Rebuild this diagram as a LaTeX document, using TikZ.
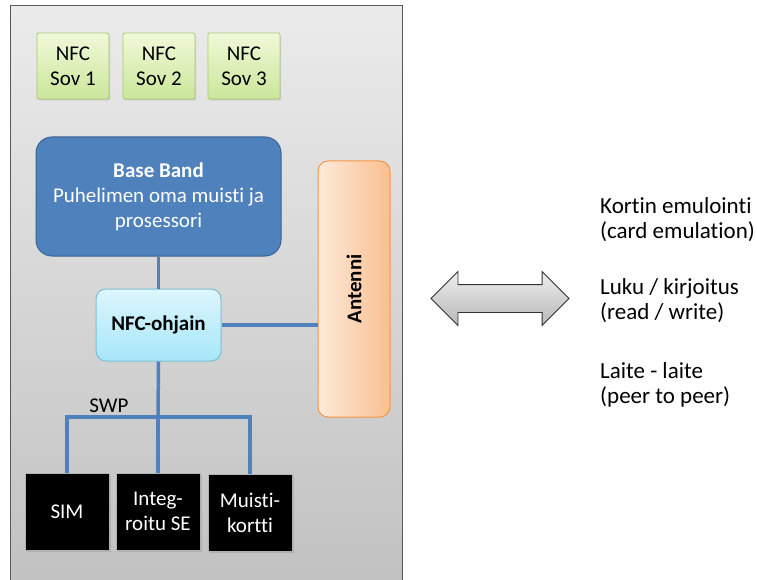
\documentclass[tikz,border=0pt]{standalone}
\usepackage{fontspec}
\setmainfont{Carlito}[Ligatures=NoCommon]
\usetikzlibrary{positioning,shapes.arrows,shadows}
\definecolor{CaseEdge}{HTML}{595959}
\definecolor{CaseTop}{HTML}{EBEBEB}
\definecolor{CaseBottom}{HTML}{C0C0C0}
\definecolor{SovTop}{HTML}{F0F9DA}
\definecolor{SovBottom}{HTML}{CBE699}
\definecolor{SovEdge}{HTML}{A6CA70}
\definecolor{BandBlue}{HTML}{4F81BD}
\definecolor{BandEdge}{HTML}{3A6494}
\definecolor{CtrlTop}{HTML}{DDF6FD}
\definecolor{CtrlBottom}{HTML}{A6E6F8}
\definecolor{CtrlEdge}{HTML}{7CC0D6}
\definecolor{AntLeft}{HTML}{FDEADA}
\definecolor{AntRight}{HTML}{FABF8F}
\definecolor{AntEdge}{HTML}{F79646}
\definecolor{LinkTop}{HTML}{EDEDED}
\definecolor{LinkBottom}{HTML}{B8B8B8}

\tikzset{
  base/.style={font=\fontsize{21}{25}\selectfont,align=center,inner sep=0pt},
  note/.style={font=\fontsize{23}{25}\selectfont,align=left,inner sep=0pt,anchor=north west},
  sovbox/.style={base,rounded corners=2pt,draw=SovEdge,line width=0.8pt,top color=SovTop,bottom color=SovBottom,
    minimum width=72pt,minimum height=66pt,drop shadow={shadow xshift=1pt,shadow yshift=-1.5pt,opacity=0.25}},
  chipbox/.style={base,fill=black,draw=gray!60,line width=0.8pt,text=white,minimum width=84pt,minimum height=77pt,
    drop shadow={shadow xshift=1.5pt,shadow yshift=-1.5pt,opacity=0.3}},
  wire/.style={BandBlue,line width=3.5pt},
}

\begin{document}
\begin{tikzpicture}[x=1pt,y=-1pt]
\useasboundingbox (0,0) rectangle (757,580);
% phone case
\draw[CaseEdge,line width=1pt,top color=CaseTop,bottom color=CaseBottom] (10,6) rectangle (402,600);
% applications
\node[sovbox] (sov1) at (73,66) {NFC\\Sov 1};
\node[sovbox] (sov2) at (159,66) {NFC\\Sov 2};
\node[sovbox] (sov3) at (244,66) {NFC\\Sov 3};
% base band, controller and antenna
\node[base,rounded corners=16pt,fill=BandBlue,draw=BandEdge,line width=1pt,text=white,minimum width=245pt,minimum height=119pt] (band) at (158.5,196.5) {\textbf{Base Band}\\Puhelimen oma muisti ja\\prosessori};
\node[base,rounded corners=10pt,top color=CtrlTop,bottom color=CtrlBottom,draw=CtrlEdge,line width=1pt,minimum width=125pt,minimum height=72pt] (ctrl) at (158.5,325) {\textbf{NFC-ohjain}};
\node[base,rounded corners=10pt,left color=AntLeft,right color=AntRight,draw=AntEdge,line width=1pt,minimum width=72pt,minimum height=256pt] (ant) at (354,289) {\rotatebox{90}{\textbf{Antenni}}};
% secure elements
\node[chipbox] (sim) at (67,511.5) {SIM};
\node[chipbox] (integ) at (158,511.5) {Integ-\\roitu SE};
\node[chipbox] (muisti) at (250,513) {Muisti-\\kortti};
% connections
\coordinate (swp) at (158,417);
\draw[wire] (band.south) -- (ctrl.north);
\draw[wire] (ctrl.east) -- (ctrl.east -| ant.west);
\draw[wire] (ctrl.south) -- (swp);
\draw[wire] (sim.north) |- (swp) -| (muisti.north);
\draw[wire] (swp) -- (integ.north);
\node[base] (swplbl) at (109,406) {SWP};
% radio link and modes
\node[double arrow,double arrow head extend=13pt,minimum height=138pt,inner xsep=0pt,inner ysep=13.5pt,
  top color=LinkTop,bottom color=LinkBottom,draw=gray!40!black,line width=0.8pt] (link) at (500,298.5) {};
\node[note] (card) at (600,197) {Kortin emulointi\\(card emulation)};
\node[note] (rw) at (600,278) {Luku / kirjoitus\\(read / write)};
\node[note] (p2p) at (600,362) {Laite - laite\\(peer to peer)};
\end{tikzpicture}
\end{document}
